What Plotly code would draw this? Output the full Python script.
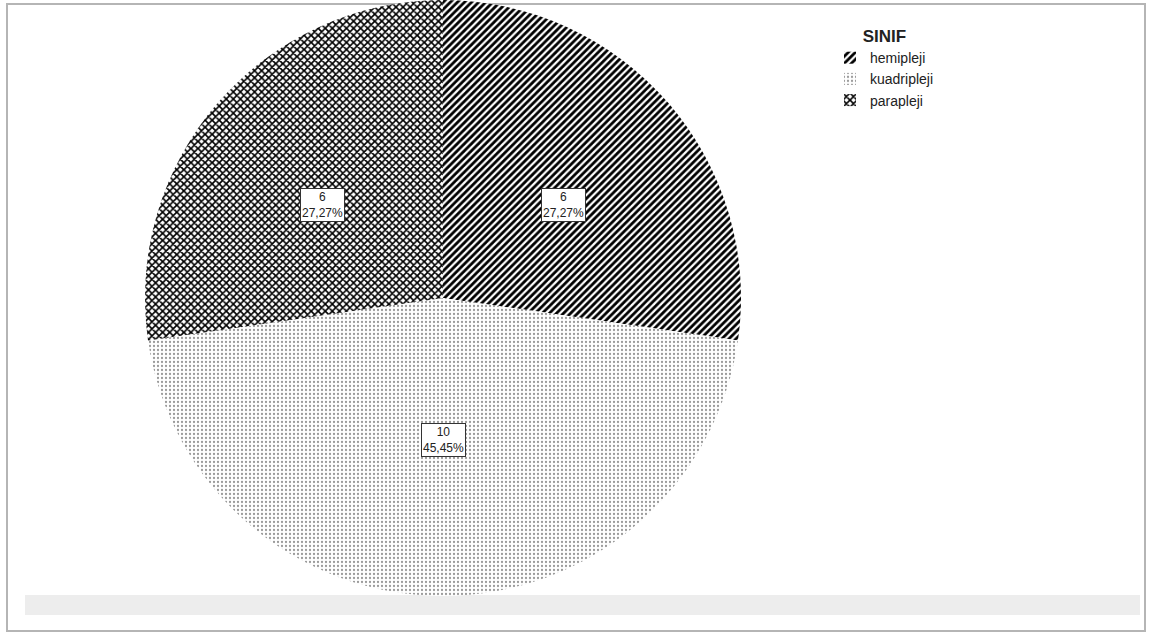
import math
import plotly.graph_objects as go

categories = ["hemipleji", "kuadripleji", "parapleji"]
counts = [6, 10, 6]
legend_title = "SINIF"

W, H = 1149, 636
cx_px, cy_px, R_px = 443, 298, 298

patterns = [
    dict(shape="/", fgcolor="black", bgcolor="white", size=5, solidity=0.55),
    dict(shape=".", fgcolor="#9a9a9a", bgcolor="white", size=4, solidity=0.25),
    dict(shape="x", fgcolor="black", bgcolor="white", size=5, solidity=0.55),
]

fig = go.Figure()
fig.add_trace(go.Pie(
    labels=categories, values=counts, sort=False, direction="clockwise", rotation=0,
    marker=dict(colors=["white"] * 3, pattern=dict(
        shape=[p["shape"] for p in patterns],
        fgcolor=[p["fgcolor"] for p in patterns],
        bgcolor=[p["bgcolor"] for p in patterns],
        size=[p["size"] for p in patterns],
        solidity=[p["solidity"] for p in patterns]),
        line=dict(width=0)),
    textinfo="none", hoverinfo="label+value+percent",
    domain=dict(x=[(cx_px - R_px) / W, (cx_px + R_px) / W],
                y=[1 - (cy_px + R_px) / H, 1 - (cy_px - R_px) / H]),
))

total = sum(counts)
cum = 0
for c, v in zip(categories, counts):
    mid = (cum + v / 2) / total * 2 * math.pi
    cum += v
    x = (cx_px + 0.534 * R_px * math.sin(mid)) / W
    y = 1 - (cy_px - 0.477 * R_px * math.cos(mid)) / H
    pct = f"{v / total * 100:.2f}".replace(".", ",")
    fig.add_annotation(x=x, y=y, xref="paper", yref="paper", showarrow=False,
                       xanchor="center", yanchor="middle",
                       text=f"{v}<br>{pct}%", font=dict(size=12, color="#222", family="Liberation Sans, Arial"),
                       bgcolor="white", bordercolor="#333", borderwidth=1, borderpad=1)

# frame and bottom band
fig.add_shape(type="rect", xref="paper", yref="paper", x0=7/W, x1=1145/W, y0=1-631/H, y1=1-4/H,
              line=dict(color="#b5b5b5", width=2), fillcolor="rgba(0,0,0,0)", layer="below")
fig.add_shape(type="rect", xref="paper", yref="paper", x0=25/W, x1=1140/W, y0=1-615/H, y1=1-595/H,
              line=dict(width=0), fillcolor="#ededed", layer="below")

fig.update_layout(
    width=W, height=H, margin=dict(l=0, r=0, t=0, b=0),
    paper_bgcolor="white", plot_bgcolor="white",
    font=dict(family="Liberation Sans, Arial", size=14, color="#222"),
    showlegend=True,
    legend=dict(x=830/W, y=1-20/H, xanchor="left", yanchor="top",
                title=dict(text="<b>" + legend_title + "</b>", side="top center",
                           font=dict(size=17, color="#222")),
                font=dict(size=14), itemwidth=30, tracegroupgap=0,
                bgcolor="rgba(0,0,0,0)"),
)

fig.write_html("out.html", config={"displayModeBar": False},
               post_script="document.body.style.margin='0';document.body.style.padding='0';")
